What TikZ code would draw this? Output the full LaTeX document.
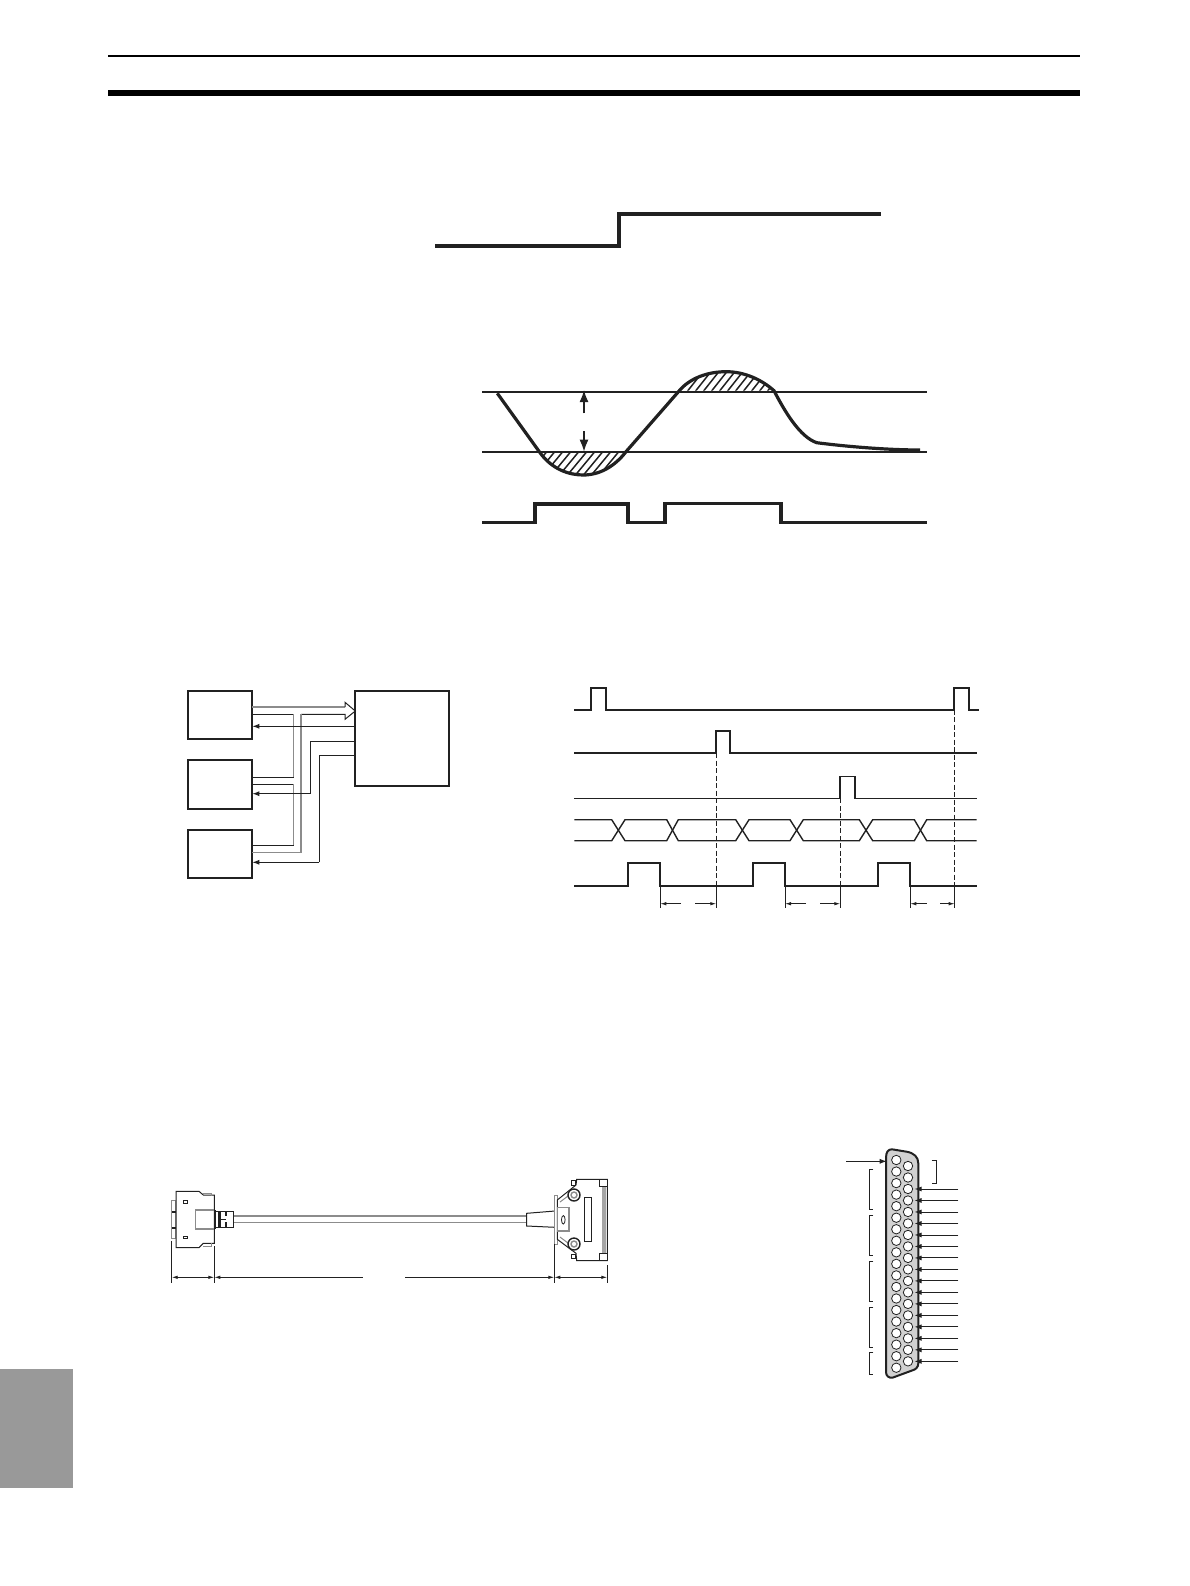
\documentclass[tikz,border=0pt]{standalone}
\usetikzlibrary{arrows.meta}
\definecolor{ink}{gray}{0.13}
\definecolor{wiregray}{gray}{0.55}
\definecolor{tabgray}{gray}{0.6}
\definecolor{shellgray}{gray}{0.82}
\tikzset{
  heavy/.style={ink,line width=3.4pt,line join=miter},
  sig/.style={ink,line width=1.7pt,line join=miter},
  thin line/.style={ink,line width=1.1pt},
  hatchline/.style={ink,line width=1.5pt},
  blockbox/.style={draw=ink,line width=2pt,fill=white,inner sep=0pt,outer sep=0pt},
  wire/.style={ink,line width=1pt},
  graywire/.style={wiregray,line width=1.3pt},
  dimline/.style={ink,line width=.9pt},
  dimtip/.style={-{Latex[length=6pt,width=3.5pt]}},
  backtip/.style={-{Latex[length=7pt,width=5pt]}},
  cdraw/.style={ink,line width=1pt},
  cgray/.style={wiregray,line width=1.5pt},
  dashsig/.style={ink,line width=.9pt,dash pattern=on 5pt off 2.5pt},
}
\begin{document}
\begin{tikzpicture}[x=1pt,y=-1pt]
\useasboundingbox (0,0) rectangle (1190,1586);
% page furniture
\fill[black] (108,55) rectangle (1080,57);
\fill[black] (108,90) rectangle (1080,96);
\fill[tabgray] (0,1369) rectangle (73,1488);
% step response
\draw[heavy] (435,246) -- (619,246) -- (619,214) -- (881,214);
% hysteresis wave
\draw[ink,line width=1.6pt] (482,392) -- (927,392);
\draw[ink,line width=1.6pt] (482,452) -- (927,452);
\begin{scope}
  \clip (539.3,451.7) .. controls (552,470) and (570,475) .. (583.3,475) .. controls (600,475) and (615,466) .. (626,451.7) -- cycle;
  \foreach \x in {525,533,...,630} \draw[hatchline] (\x,478) -- ({\x+24},449);
\end{scope}
\begin{scope}
  \clip (679.3,390.7) .. controls (690,378) and (708,371.7) .. (726,371.7) .. controls (745,371.7) and (762,380) .. (774,390.7) -- cycle;
  \foreach \x in {670,678,...,780} \draw[hatchline] (\x,393) -- ({\x+19},369);
\end{scope}
\draw[ink,line width=3.2pt,line join=round] (497.3,393.3) -- (539.3,451.7)
  .. controls (552,470) and (570,475) .. (583.3,475)
  .. controls (600,475) and (615,466) .. (626,451.7)
  -- (679.3,390.7)
  .. controls (690,378) and (708,371.7) .. (726,371.7)
  .. controls (745,371.7) and (762,380) .. (774,390.7)
  .. controls (785,412) and (800,437) .. (816.7,442.7)
  .. controls (850,447) and (890,450) .. (920,450);
\draw[ink,line width=1.6pt,-{Latex[length=12pt,width=9pt]}] (584,413.3) -- (584,390);
\draw[ink,line width=1.6pt,-{Latex[length=12pt,width=9pt]}] (584,431) -- (584,451.7);
\draw[heavy] (482,522.7) -- (535,522.7) -- (535,504) -- (628,504) -- (628,522.7) -- (665,522.7) -- (665,503.3) -- (781,503.3) -- (781,522.7) -- (927,522.7);
% block diagram
\node[blockbox,minimum width=64.6pt,minimum height=48.3pt] (devA) at (220,714.85) {};
\node[blockbox,minimum width=64.6pt,minimum height=49.3pt] (devB) at (220,784.35) {};
\node[blockbox,minimum width=64.6pt,minimum height=48pt] (devC) at (220,854) {};
\node[blockbox,minimum width=93.7pt,minimum height=95.3pt] (ctrl) at (402.15,738.35) {};
\coordinate (aBusTop) at (devA.east |- 0,707);
\coordinate (aBusLow) at (devA.east |- 0,714.3);
\coordinate (aBack) at (devA.east |- 0,726.3);
\coordinate (bOne) at (devB.east |- 0,777.3);
\coordinate (bTwo) at (devB.east |- 0,784.3);
\coordinate (bBack) at (devB.east |- 0,793.7);
\coordinate (cOne) at (devC.east |- 0,845.3);
\coordinate (cBus) at (devC.east |- 0,852.7);
\coordinate (cBack) at (devC.east |- 0,862.3);
\coordinate (mBack) at (ctrl.west |- 0,726.3);
\coordinate (mTwo) at (ctrl.west |- 0,741.3);
\coordinate (mThree) at (ctrl.west |- 0,755.7);
\coordinate (busTip) at (ctrl.west |- 0,711);
\draw[graywire] (aBusTop) -- (345,707);
\draw[ink,line width=1pt] (345,707) -- (345,702.3) -- (busTip) -- (345,719.3) -- (345,714.3) -- (301,714.3);
\draw[graywire,line width=1.5pt] (301,714.3) -- (301,852.7) -- (cBus);
\draw[wire] (aBusLow) -- (293.7,714.3);
\draw[graywire] (293.7,714.3) -- (293.7,777.3);
\draw[wire] (293.7,777.3) -- (bOne);
\draw[wire] (bTwo) -- (293.7,784.3);
\draw[graywire] (293.7,784.3) -- (293.7,845.3);
\draw[wire] (293.7,845.3) -- (cOne);
\draw[wire,backtip] (mBack) -- (aBack);
\draw[wire] (mTwo) -- (310.3,741.3) -- (310.3,793.7);
\draw[wire,backtip] (310.3,793.7) -- (bBack);
\draw[wire] (mThree) -- (319.3,755.7) -- (319.3,862.3);
\draw[wire,backtip] (319.3,862.3) -- (cBack);
% timing chart
\draw[sig] (574.3,709.7) -- (590.7,709.7) -- (590.7,687.7) -- (606,687.7) -- (606,709.7) -- (954.3,709.7) -- (954.3,687.7) -- (969.3,687.7) -- (969.3,709.7) -- (979,709.7);
\draw[sig,line width=2pt] (574.3,753) -- (716,753) -- (716,730.7) -- (730.3,730.7) -- (730.3,753) -- (976.7,753);
\draw[sig,line width=1.6pt] (574.3,798.3) -- (840,798.3) -- (840,776.3) -- (855,776.3) -- (855,798.3) -- (976.7,798.3);
\draw[sig,line width=1.4pt] (574.3,819.7) -- (611.7,819.7) -- (625,840.7) -- (666.7,840.7) -- (678.3,819.7) -- (735.7,819.7) -- (749,840.7) -- (790,840.7) -- (803.3,819.7) -- (859.3,819.7) -- (872.7,840.7) -- (914.3,840.7) -- (926.7,819.7) -- (976.7,819.7);
\draw[sig,line width=1.4pt] (574.3,840.7) -- (611.7,840.7) -- (625,819.7) -- (666.7,819.7) -- (678.3,840.7) -- (735.7,840.7) -- (749,819.7) -- (790,819.7) -- (803.3,840.7) -- (859.3,840.7) -- (872.7,819.7) -- (914.3,819.7) -- (926.7,840.7) -- (976.7,840.7);
\draw[sig] (574.3,885.7) -- (628,885.7) -- (628,863.3) -- (660,863.3) -- (660,885.7) -- (752.7,885.7) -- (752.7,863.3) -- (785,863.3) -- (785,885.7) -- (878,885.7) -- (878,863.3) -- (910.3,863.3) -- (910.3,885.7) -- (976.7,885.7);
\draw[dashsig] (716.3,753) -- (716.3,885.7);
\draw[dashsig] (840.3,798.3) -- (840.3,885.7);
\draw[dashsig] (954.7,709.7) -- (954.7,885.7);
\foreach \x in {660.3,716.3,785,840.3,910.3,954.7} \draw[dimline] (\x,885.7) -- (\x,908);
\draw[dimline,dimtip] (681,903.7) -- (660.3,903.7);
\draw[dimline,dimtip] (695,903.7) -- (716.3,903.7);
\draw[dimline,dimtip] (806,903.7) -- (785,903.7);
\draw[dimline,dimtip] (820,903.7) -- (840.3,903.7);
\draw[dimline,dimtip] (926.7,903.7) -- (910.3,903.7);
\draw[dimline,dimtip] (940,903.7) -- (954.7,903.7);
% cable: lines
\draw[cgray] (233.3,1216) -- (526.7,1216);
\draw[cgray] (233.3,1222.7) -- (526.7,1222.7);
% cable: left plug
\draw[cgray,fill=white] (171.7,1200.7) rectangle (176,1238.3);
\fill[ink] (172,1210.5) rectangle (176,1212.5);
\fill[ink] (172,1227) rectangle (176,1229);
\draw[cdraw,fill=white] (176,1191.3) -- (199,1191.3) -- (203.3,1195) -- (214.3,1195) -- (214.3,1243.3) -- (203.3,1243.3) -- (199,1247.7) -- (176,1247.7) -- cycle;
\draw[cgray,line width=1pt] (203.3,1193) -- (211.5,1193) -- (211.5,1196);
\draw[cgray,line width=1pt] (203.3,1246) -- (211.5,1246) -- (211.5,1243);
\draw[cdraw,line width=.8pt] (183.3,1200.7) rectangle (187.7,1203.3);
\draw[cdraw,line width=.8pt] (183.3,1236) rectangle (187.7,1238.7);
\draw[cgray] (214.3,1210) -- (195.3,1210) -- (195.3,1229) -- (214.3,1229);
\draw[cdraw,fill=white] (214.3,1211) rectangle (233.3,1227.7);
\draw[ink,line width=2.6pt] (215,1210) -- (215,1229);
\draw[ink,line width=2.2pt] (219.5,1211) -- (219.5,1227.7);
\draw[ink,line width=1.6pt] (226,1211) -- (226,1216);
\draw[ink,line width=1.6pt] (226,1222) -- (226,1227.7);
\draw[ink,line width=1pt] (219.5,1219) -- (226,1219);
% cable: right plug
\draw[cdraw,fill=white] (526.7,1213.3) -- (555,1211) -- (555,1227.3) -- (526.7,1226) -- cycle;
\draw[cgray,fill=white] (554.3,1195.7) rectangle (557.3,1244.3);
\draw[cdraw,fill=white] (557.3,1200) -- (576,1185) -- (576.7,1179.3) -- (607.3,1179.3) -- (607.3,1260.7) -- (576.7,1260.7) -- (576,1253.3) -- (557.3,1239.3) -- cycle;
\draw[cgray,line width=1pt] (560,1202) -- (576,1190);
\draw[cgray,line width=1pt] (560,1237) -- (576,1249);
\draw[cgray,fill=white] (557.3,1207.7) rectangle (569,1231);
\draw[cdraw,line width=.8pt] (563.3,1219.8) ellipse [x radius=1.8pt,y radius=4.2pt];
\draw[cdraw,line width=1.4pt,fill=white] (574,1195) circle [radius=6pt];
\draw[cdraw,line width=1.4pt,fill=white] (574,1244) circle [radius=6pt];
\draw[wiregray,line width=1.4pt,fill=white] (574,1195) circle [radius=3pt];
\draw[wiregray,line width=1.4pt,fill=white] (574,1244) circle [radius=3pt];
\draw[cdraw,fill=white] (584.3,1197.3) rectangle (591.7,1241.7);
\fill[gray!70] (602,1186) rectangle (605.5,1253.3);
\draw[cdraw,fill=white] (599,1179.8) rectangle (607.3,1186);
\draw[cdraw,fill=white] (599,1253.3) rectangle (607.3,1260.2);
\draw[cdraw,line width=.8pt,fill=white] (571,1180.7) rectangle (575,1185);
\draw[cdraw,line width=.8pt,fill=white] (571,1254) rectangle (575,1258.7);
% cable: dimensions
\draw[dimline] (171.7,1240.7) -- (171.7,1282.7);
\draw[dimline] (214.3,1246) -- (214.3,1282.7);
\draw[dimline] (554.3,1244.3) -- (554.3,1282.7);
\draw[dimline] (607.3,1265) -- (607.3,1282.7);
\draw[dimline,{Latex[length=6pt,width=3.5pt]}-{Latex[length=6pt,width=3.5pt]}] (171.7,1277.3) -- (214.3,1277.3);
\draw[dimline,dimtip] (362.7,1277.3) -- (214.3,1277.3);
\draw[dimline,dimtip] (405,1277.3) -- (554.3,1277.3);
\draw[dimline,{Latex[length=6pt,width=3.5pt]}-{Latex[length=6pt,width=3.5pt]}] (554.3,1277.3) -- (607.3,1277.3);
% D-sub connector face
\draw[ink,line width=2pt,fill=shellgray,line join=round] (886,1158)
  .. controls (886,1152) and (888,1149.3) .. (892,1149.3)
  -- (906.7,1151.7)
  .. controls (914,1153) and (918.3,1157) .. (918.3,1163.3)
  -- (918.3,1363.3)
  .. controls (918.3,1367) and (916,1369.5) .. (912,1370.5)
  -- (893,1377.5)
  .. controls (889,1378.5) and (886,1376) .. (886,1372)
  -- cycle;
\foreach \i in {0,...,18} \draw[ink,line width=.8pt,fill=white] (896.3,{1160+\i*11.54}) circle [radius=4.7pt];
\foreach \i in {0,...,17} \draw[ink,line width=.8pt,fill=white] (908,{1166+\i*11.49}) circle [radius=4.7pt];
\foreach \i in {2,...,17} \draw[ink,line width=.9pt,backtip] (958.3,{1166+\i*11.49}) -- (914.5,{1166+\i*11.49});
\draw[ink,line width=.9pt,backtip] (846,1161.3) -- (886.7,1161.3);
\draw[ink,line width=.9pt] (931.7,1160.7) -- (936,1160.7) -- (936,1183.3) -- (931.7,1183.3);
\draw[ink,line width=.9pt] (873.3,1169.3) -- (869.3,1169.3) -- (869.3,1209.3) -- (873.3,1209.3);
\draw[ink,line width=.9pt] (873.3,1215.3) -- (869.3,1215.3) -- (869.3,1255) -- (873.3,1255);
\draw[ink,line width=.9pt] (873.3,1261.7) -- (869.3,1261.7) -- (869.3,1301.3) -- (873.3,1301.3);
\draw[ink,line width=.9pt] (873.3,1307.3) -- (869.3,1307.3) -- (869.3,1347.3) -- (873.3,1347.3);
\draw[ink,line width=.9pt] (873.3,1352.3) -- (869.3,1352.3) -- (869.3,1374.3) -- (873.3,1374.3);
\end{tikzpicture}
\end{document}
